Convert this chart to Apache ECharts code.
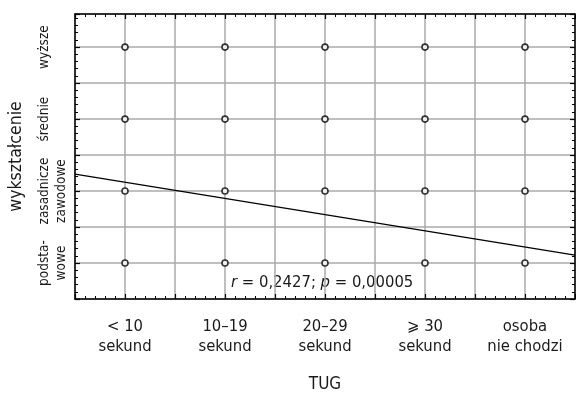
<!DOCTYPE html>
<html>
<head>
<meta charset="utf-8">
<script src="https://cdn.jsdelivr.net/npm/echarts@6/dist/echarts.min.js"></script>
<style>
  html, body { margin: 0; padding: 0; background: #fff; }
  #chart { width: 576px; height: 394px; }
</style>
</head>
<body>
<div id="chart"></div>
<script>
// kategorie TUG (os x) i wyksztalcenie (os y)
var tugLabels = ['< 10\nsekund', '10–19\nsekund', '20–29\nsekund', '\u2a7e 30\nsekund', 'osoba\nnie chodzi'];
var eduLabels = ['podsta-\nwowe', 'zasadnicze\nzawodowe', 'średnie', 'wyższe'];
var tugCodes = [1, 2, 3, 4, 5];
var eduCodes = [1, 2, 3, 4];
// linia regresji
var fitX = [0.5, 5.5];
var fitY = [2.236, 1.111];
var statText = '{i|r} = 0,2427; {i|p} = 0,00005';

(function(){
    var font = "'Liberation Sans Narrow', 'DejaVu Sans Condensed', Arial, sans-serif";
    var chart = echarts.init(document.getElementById('chart'));

    var points = [];
    tugCodes.forEach(function(x){
        eduCodes.forEach(function(y){ points.push([x, y]); });
    });

    function isInt(v){ return Math.abs(v - Math.round(v)) < 1e-6; }

    var gridLine = { show: true, lineStyle: { color: '#aaaaaa', width: 1.5 } };
    var boxLine = { show: true, onZero: false, lineStyle: { color: '#000', width: 1.5 } };
    var tick = { show: true, inside: true, length: 5, lineStyle: { color: '#000', width: 1.2 } };
    var minor = { show: true, splitNumber: 5, length: 3, lineStyle: { color: '#000', width: 1 } };

    var option = {
        animation: false,
        textStyle: { fontFamily: font },
        grid: { left: 75, right: 1, top: 14, bottom: 95, containLabel: false, outerBoundsMode: 'none' },
        xAxis: [{
            type: 'value', min: 0.5, max: 5.5, interval: 0.5, position: 'bottom',
            axisLine: boxLine, axisTick: tick, minorTick: minor, splitLine: gridLine,
            name: 'TUG', nameLocation: 'middle', nameGap: 77,
            nameTextStyle: { fontSize: 17, color: '#1a1a1a', fontFamily: font },
            axisLabel: {
                fontSize: 16.5, color: '#1a1a1a', lineHeight: 20, margin: 18, fontFamily: font,
                formatter: function(v){ return isInt(v) ? tugLabels[Math.round(v) - 1] || '' : ''; }
            }
        }, {
            type: 'value', min: 0.5, max: 5.5, interval: 0.5, position: 'top',
            axisLine: boxLine, axisTick: tick, minorTick: minor,
            splitLine: { show: false }, axisLabel: { show: false }
        }],
        yAxis: [{
            type: 'value', min: 0.5, max: 4.46, interval: 0.5, position: 'left',
            axisLine: boxLine, axisTick: tick, minorTick: minor, splitLine: gridLine,
            name: 'wykształcenie', nameLocation: 'middle', nameGap: 50,
            nameTextStyle: { fontSize: 17.5, color: '#1a1a1a', fontFamily: font },
            axisLabel: {
                rotate: 90, fontSize: 13.5, color: '#1a1a1a', lineHeight: 17, margin: 39,
                verticalAlign: 'top', align: 'center', fontFamily: font,
                formatter: function(v){ return isInt(v) ? eduLabels[Math.round(v) - 1] || '' : ''; }
            }
        }, {
            type: 'value', min: 0.5, max: 4.46, interval: 0.5, position: 'right',
            axisLine: boxLine, axisTick: tick, minorTick: minor,
            splitLine: { show: false }, axisLabel: { show: false }
        }],
        graphic: [{
            type: 'text', left: 231, top: 274,
            style: {
                text: statText, fontSize: 16.5, fill: '#1a1a1a', fontFamily: font,
                rich: { i: { fontStyle: 'italic', fontSize: 16.5, fontFamily: font, fill: '#1a1a1a' } }
            }
        }],
        series: [{
            type: 'line',
            data: [[fitX[0], fitY[0]], [fitX[1], fitY[1]]],
            symbol: 'none', silent: true,
            lineStyle: { color: '#000', width: 1.3 }
        }, {
            type: 'scatter', data: points,
            symbol: 'circle', symbolSize: 6,
            itemStyle: { color: '#fff', borderColor: '#000', borderWidth: 1.6 },
            z: 5
        }]
    };
    chart.setOption(option);
})();
</script>
</body>
</html>
